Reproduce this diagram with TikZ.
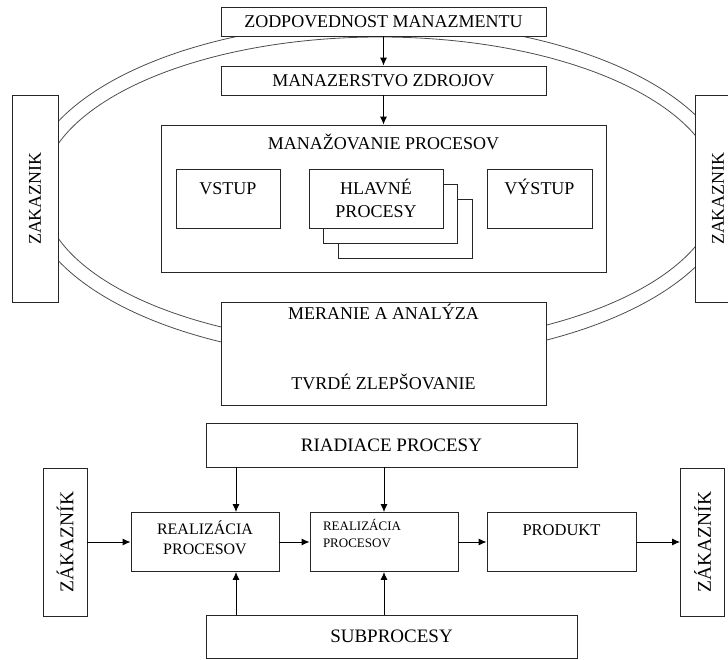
\documentclass[tikz,border=0pt]{standalone}
\usepackage{fontspec}
\setmainfont{Liberation Serif}
\usetikzlibrary{arrows.meta}

\begin{document}
\begin{tikzpicture}[x=1pt,y=-1pt]
\tikzstyle{blok}=[rectangle,draw=black!85,line width=0.9pt,fill=white,inner sep=0pt,align=center,font=\fontsize{18}{21}\selectfont]
\tikzstyle{zak}=[blok,rotate=90,minimum width=207,minimum height=46]
\tikzstyle{dolny}=[blok,minimum width=371,minimum height=44,font=\fontsize{19}{21}\selectfont]
\tikzstyle{real}=[blok,minimum width=148,font=\fontsize{16}{20}\selectfont]
\tikzstyle{pil}=[line width=0.9pt,-{Latex[length=8pt,width=7pt]}]
\tikzstyle{obruc}=[draw=black!70,line width=0.8pt]
\useasboundingbox (0,0) rectangle (728,659);
% elipsa okolo systemu
\draw[obruc] (380,191) ellipse [x radius=353pt,y radius=169pt];
\draw[obruc] (380,191) ellipse [x radius=338pt,y radius=154pt];
% horna cast
\node[blok,minimum width=325,minimum height=29] (zodp) at (383.5,21.5) {ZODPOVEDNOST MANAZMENTU};
\node[blok,minimum width=325,minimum height=29] (zdroj) at (383.5,80.5) {MANAZERSTVO ZDROJOV};
\node[blok,minimum width=445,text height=24,text depth=123] (manaz) at (383.5,198.5) {MANAŽOVANIE PROCESOV};
\node[blok,minimum width=104,text height=25,text depth=34] (vstup) at (228,198.5) {VSTUP};
\node[blok,minimum width=134,minimum height=59] (hl3) at (405.5,228.5) {};
\node[blok,minimum width=134,minimum height=59] (hl2) at (390,213.5) {};
\node[blok,minimum width=134,text height=48,text depth=11,font=\fontsize{18}{23}\selectfont] (hl1) at (376,198.5) {HLAVNÉ\\PROCESY};
\node[blok,minimum width=105,text height=25,text depth=34] (vystup) at (539.5,198.5) {VÝSTUP};
\node[zak] (zakL) at (35,198.5) {ZAKAZNIK};
\node[zak] (zakR) at (718,198.5) {ZAKAZNIK};
\node[blok,minimum width=325,text height=87,text depth=16] (meranie) at (383.5,353.5) {MERANIE A ANALÝZA\\[49pt]TVRDÉ ZLEPŠOVANIE};
\draw[pil] (zodp) -- (zdroj);
\draw[pil] (zdroj) -- (manaz);
% dolna cast
\node[dolny] (riad) at (391.5,445) {RIADIACE PROCESY};
\node[dolny,minimum height=43] (sub) at (391.5,636.5) {SUBPROCESY};
\node[zak,minimum width=148,minimum height=44,font=\fontsize{19.5}{21}\selectfont] (zak2L) at (65,542) {ZÁKAZNÍK};
\node[zak,minimum width=148,minimum height=44,font=\fontsize{19.5}{21}\selectfont] (zak2R) at (702.5,542) {ZÁKAZNÍK};
\node[real,text height=42,text depth=17] (real1) at (205,542) {REALIZÁCIA\\PROCESOV};
\node[real,align=left,text width=122,inner xsep=13,text height=18,text depth=41,font=\fontsize{13}{17}\selectfont] (real2) at (384,542) {REALIZÁCIA\\PROCESOV};
\node[real,minimum width=149,text height=23,text depth=36,font=\fontsize{16.5}{20}\selectfont] (prod) at (561.5,542) {PRODUKT};
\coordinate (r1h) at ([xshift=31]real1.north);
\coordinate (r1d) at ([xshift=31]real1.south);
\draw[pil] (r1h |- riad.south) -- (r1h);
\draw[pil] (real2.north |- riad.south) -- (real2.north);
\draw[pil] (r1d |- sub.north) -- (r1d);
\draw[pil] (real2.south |- sub.north) -- (real2.south);
\draw[pil] (zak2L.south) -- (real1.west);
\draw[pil] (real1) -- (real2);
\draw[pil] (real2) -- (prod);
\draw[pil] (prod.east) -- (zak2R.north);
\end{tikzpicture}
\end{document}
